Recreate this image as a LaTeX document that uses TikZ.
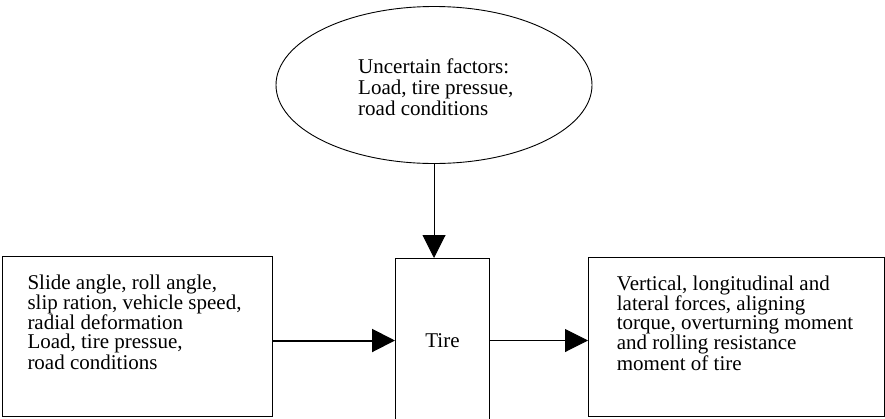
\documentclass[tikz,border=0pt]{standalone}
\usepackage{fontspec}
\setmainfont{Liberation Serif}
\usetikzlibrary{shapes, positioning, arrows.meta, calc}

\begin{document}
\begin{tikzpicture}[x=1pt, y=-1pt,
    block/.style={draw, rectangle, line width=1pt, inner sep=0pt, font=\fontsize{21}{19}\selectfont},
    cloud/.style={draw, ellipse, line width=0.9pt, inner sep=0pt, minimum width=316pt, minimum height=157pt},
    words/.style={align=left, inner sep=0pt, anchor=base west, font=\fontsize{21}{19}\selectfont},
    flow/.style={-{Triangle[length=23pt, width=23pt]}, line width=1pt},
    thickflow/.style={flow, line width=2pt}]
    \useasboundingbox (0,0) rectangle (885,418);

    % uncertain factors
    \node[cloud] (factors) at (434,85) {};
    \node[words, font=\fontsize{21}{21}\selectfont] (factorstext) at (358,115.5) {Uncertain factors:\\Load, tire pressue,\\road conditions};

    % tire and its inputs / outputs
    \node[block, minimum width=94pt, minimum height=164pt, anchor=north west] (tire) at (395,258) {Tire};
    \node[block, minimum width=270pt, minimum height=160pt, anchor=north east] (inputs) at ([xshift=-122pt, yshift=2pt]tire.north west) {};
    \node[block, minimum width=296pt, minimum height=159pt, anchor=north west] (outputs) at ([xshift=98pt, yshift=1pt]tire.north east) {};

    \node[words] (inputstext) at (27.3,369) {Slide angle, roll angle,\\slip ration, vehicle speed,\\radial deformation\\Load, tire pressue,\\road conditions};
    \node[words] (outputstext) at (616.7,370) {Vertical, longitudinal and\\lateral forces, aligning\\torque, overturning moment\\and rolling resistance\\moment of tire};

    \draw[flow] (factors.south) -- (factors.south |- tire.north);
    \draw[thickflow] (tire.west -| inputs.east) -- (tire.west);
    \draw[flow] (tire.east) -- (tire.east -| outputs.west);
\end{tikzpicture}
\end{document}
